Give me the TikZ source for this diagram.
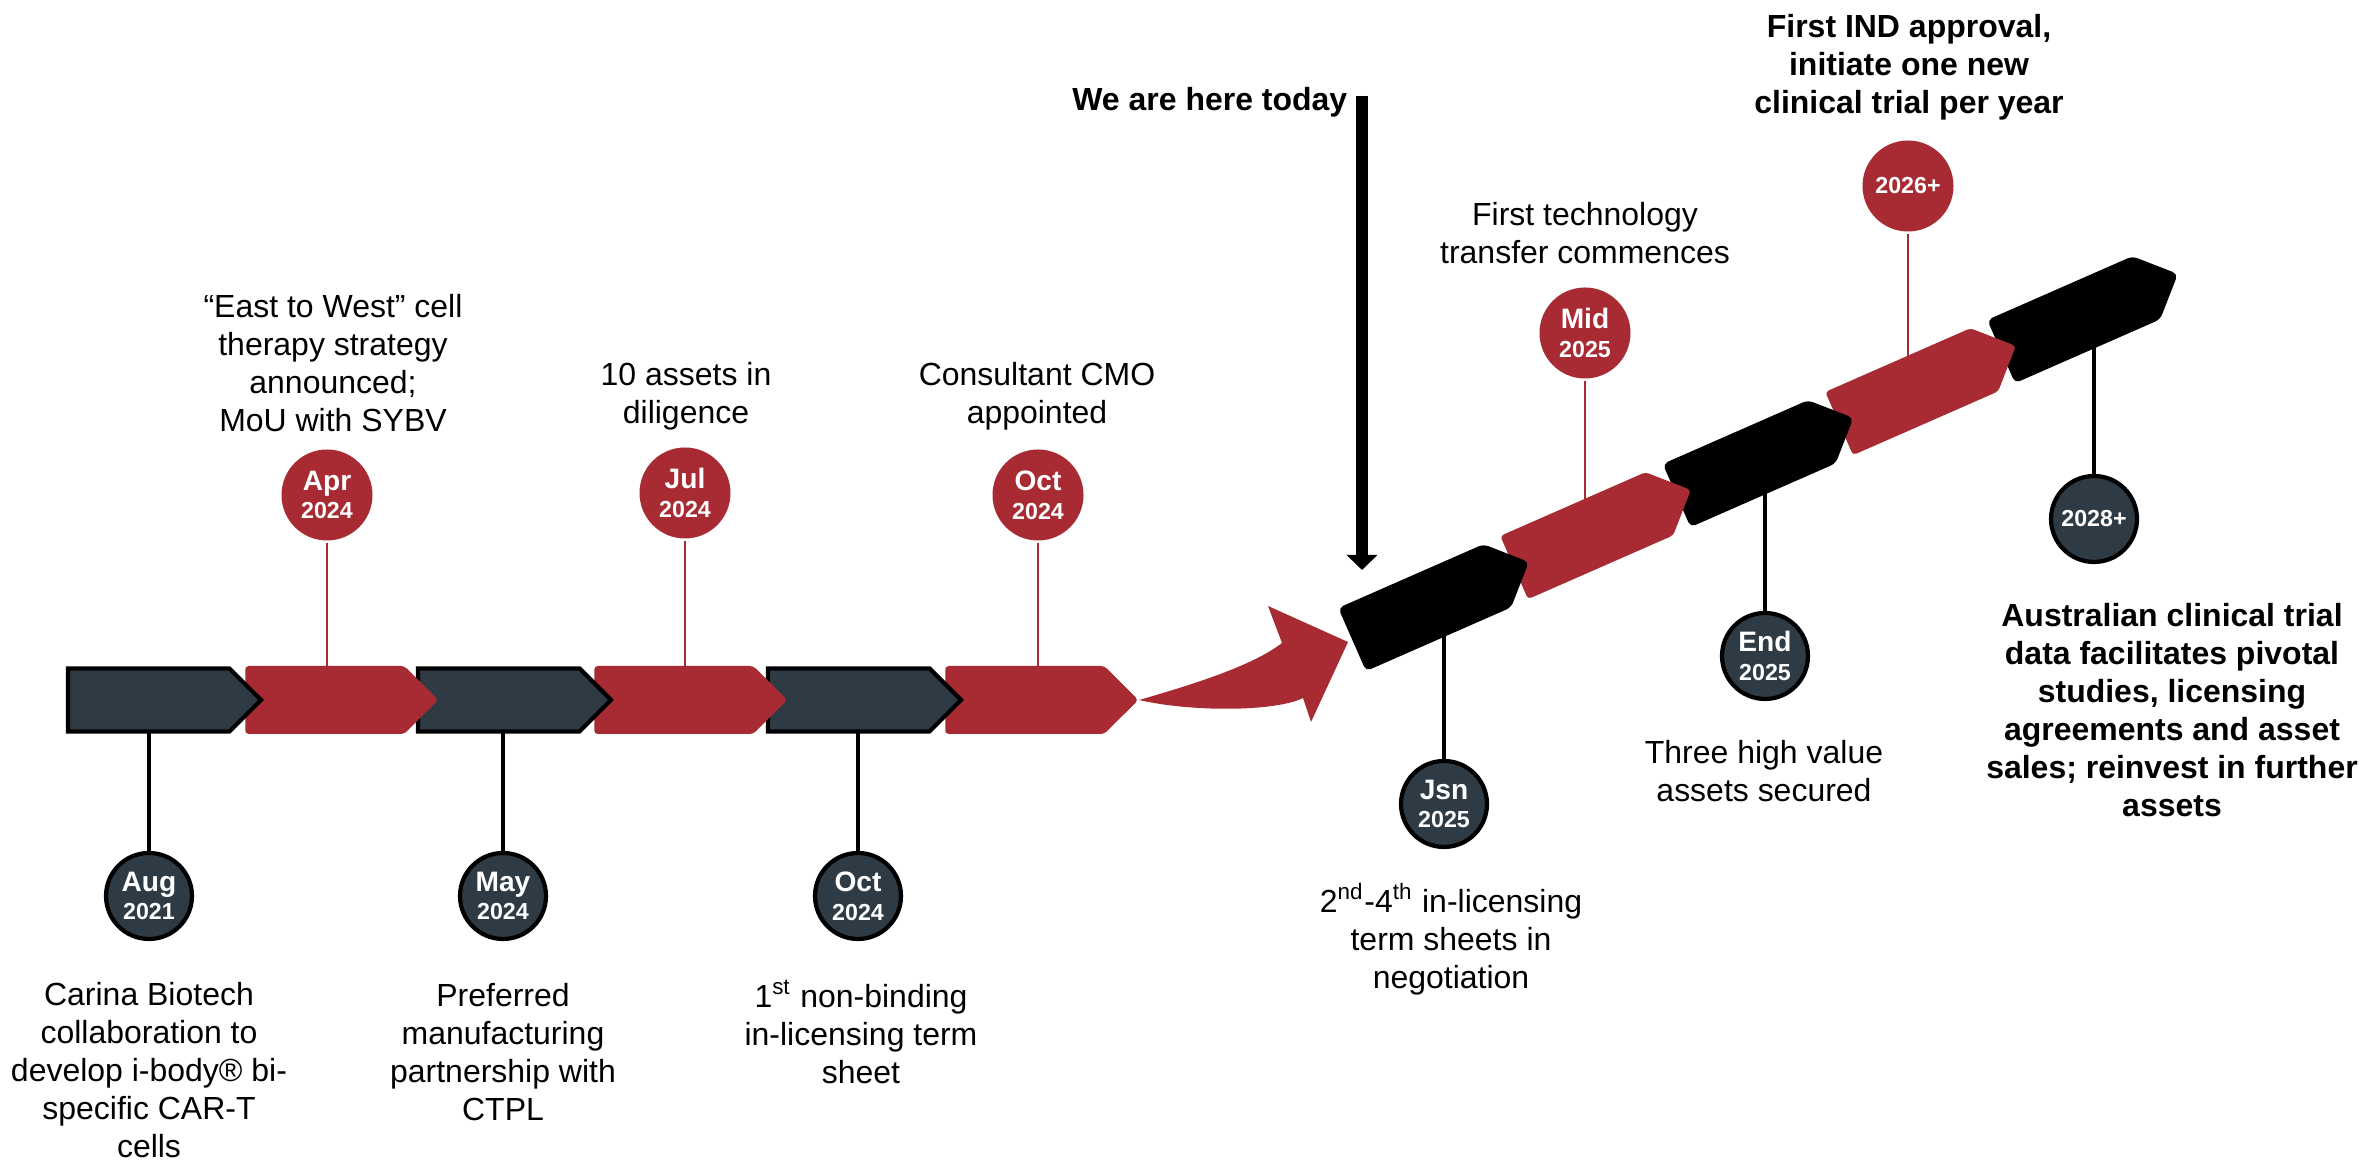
\documentclass[tikz,border=0pt]{standalone}
\usepackage{fontspec}
\setmainfont{Liberation Sans}
\usetikzlibrary{arrows.meta, positioning, shapes.symbols, backgrounds}

\definecolor{crimson}{HTML}{A82A32}
\definecolor{slate}{HTML}{2E3B45}

\newcommand{\yeartxt}[1]{{\fontsize{6.6}{8.2}\selectfont #1}}

\tikzset{
  chev/.style={shape=signal, signal to=east, signal pointer angle=90, inner sep=0pt, minimum width=1.93cm, minimum height=0.68cm},
  darkchev/.style={chev, minimum height=0.63cm, fill=slate, draw=black, line width=1.2pt},
  redchev/.style={chev, fill=crimson, rounded corners=1pt},
  blackchev/.style={chev, minimum height=0.69cm, fill=black, rounded corners=1.5pt, rotate=23.7},
  redchevup/.style={redchev, minimum height=0.69cm, rotate=23.7},
  darkdot/.style={circle, minimum size=0.86cm, inner sep=0pt, fill=slate, draw=black, line width=1.2pt, text=white, align=center, font=\fontsize{8}{8.2}\selectfont\bfseries},
  reddot/.style={darkdot, fill=crimson, draw=none, minimum size=0.91cm},
  txt/.style={align=center, inner sep=0pt, font=\fontsize{9.1}{10.8}\selectfont},
  txtbold/.style={txt, font=\fontsize{9.1}{10.8}\selectfont\bfseries},
  darkstem/.style={draw=black, line width=0.9pt},
  redstem/.style={draw=crimson, line width=0.7pt},
  nowarrow/.style={-{Triangle[width=0.30cm, length=0.15cm]}, line width=0.12cm}
}

\begin{document}
\begin{tikzpicture}
\useasboundingbox (0,0) rectangle (23.64,11.61);

% lower row
\node[redchev] (r3) at (10.2475,4.61) {};
\node[darkchev] (d3) at (8.4875,4.61) {};
\node[redchev] (r2) at (6.7375,4.61) {};
\node[darkchev] (d2) at (4.9875,4.61) {};
\node[redchev] (r1) at (3.2475,4.61) {};
\node[darkchev] (d1) at (1.4875,4.61) {};

% rising row
\node[blackchev] (b3) at (20.737,8.413) {};
\node[redchevup] (r5) at (19.117,7.693) {};
\node[blackchev] (b2) at (17.492,6.973) {};
\node[redchevup] (r4) at (15.867,6.253) {};
\node[blackchev] (b1) at (14.247,5.533) {};

\fill[crimson] (r3.east) .. controls (11.80,4.73) and (12.50,4.93) .. (12.82,5.18) -- (12.68,5.55) -- (13.48,5.19) -- (13.11,4.39) -- (13.03,4.63) .. controls (12.75,4.49) and (11.90,4.49) .. (r3.east) -- cycle;

\node[darkdot] (aug) at (1.49,2.65) {Aug\\\yeartxt{2021}};
\node[darkdot] (may) at (5.03,2.65) {May\\\yeartxt{2024}};
\node[darkdot] (octb) at (8.58,2.65) {Oct\\\yeartxt{2024}};
\node[reddot] (apr) at (3.27,6.66) {Apr\\\yeartxt{2024}};
\node[reddot] (jul) at (6.85,6.68) {Jul\\\yeartxt{2024}};
\node[reddot] (octa) at (10.38,6.66) {Oct\\\yeartxt{2024}};
\node[darkdot] (jsn) at (14.44,3.57) {Jsn\\\yeartxt{2025}};
\node[reddot] (mid) at (15.85,8.28) {Mid\\\yeartxt{2025}};
\node[darkdot] (endyr) at (17.65,5.05) {End\\\yeartxt{2025}};
\node[reddot] (yr26) at (19.08,9.75) {\yeartxt{2026+}};
\node[darkdot] (yr28) at (20.94,6.42) {\yeartxt{2028+}};

\begin{scope}[on background layer]
\draw[darkstem] (aug) -- (aug |- d1.center);
\draw[darkstem] (may) -- (may |- d2.center);
\draw[darkstem] (octb) -- (octb |- d3.center);
\draw[redstem] (apr) -- (apr |- r1.center);
\draw[redstem] (jul) -- (jul |- r2.center);
\draw[redstem] (octa) -- (octa |- r3.center);
\draw[darkstem] (jsn) -- (jsn |- b1.center);
\draw[redstem] (mid) -- (mid |- r4.center);
\draw[darkstem] (endyr) -- (endyr |- b2.center);
\draw[redstem] (yr26) -- (yr26 |- r5.center);
\draw[darkstem] (yr28) -- (yr28 |- b3.center);
\end{scope}

\node[txt] (carina) at (1.49,0.91) {Carina Biotech\\collaboration to\\develop i-body® bi-\\specific CAR-T\\cells};
\node[txt] (ctpl) at (5.03,1.09) {Preferred\\manufacturing\\partnership with\\CTPL};
\node[txt] (sheet) at (8.61,1.29) {1\textsuperscript{st} non-binding\\in-licensing term\\sheet};
\node[txt] (east) at (3.33,7.975) {“East to West” cell\\therapy strategy\\announced;\\MoU with SYBV};
\node[txt] (assets) at (6.86,7.65) {10 assets in\\diligence};
\node[txt] (cmo) at (10.37,7.65) {Consultant CMO\\appointed};
\node[txt] (transfer) at (15.85,9.275) {First technology\\transfer commences};
\node[txtbold] (ind) at (19.09,10.94) {First IND approval,\\initiate one new\\clinical trial per year};
\node[txt] (terms) at (14.51,2.22) {2\textsuperscript{nd}-4\textsuperscript{th} in-licensing\\term sheets in\\negotiation};
\node[txt] (secured) at (17.64,3.90) {Three high value\\assets secured};
\node[txtbold] (aus) at (21.72,4.51) {Australian clinical trial\\data facilitates pivotal\\studies, licensing\\agreements and asset\\sales; reinvest in further\\assets};

\coordinate (here) at (13.62,10.65);
\coordinate (herehit) at (13.62,5.91);
\node[txtbold, left=0.14cm of here, yshift=-0.06cm] (today) {We are here today};
\draw[nowarrow] (here) -- (herehit);
\end{tikzpicture}
\end{document}
